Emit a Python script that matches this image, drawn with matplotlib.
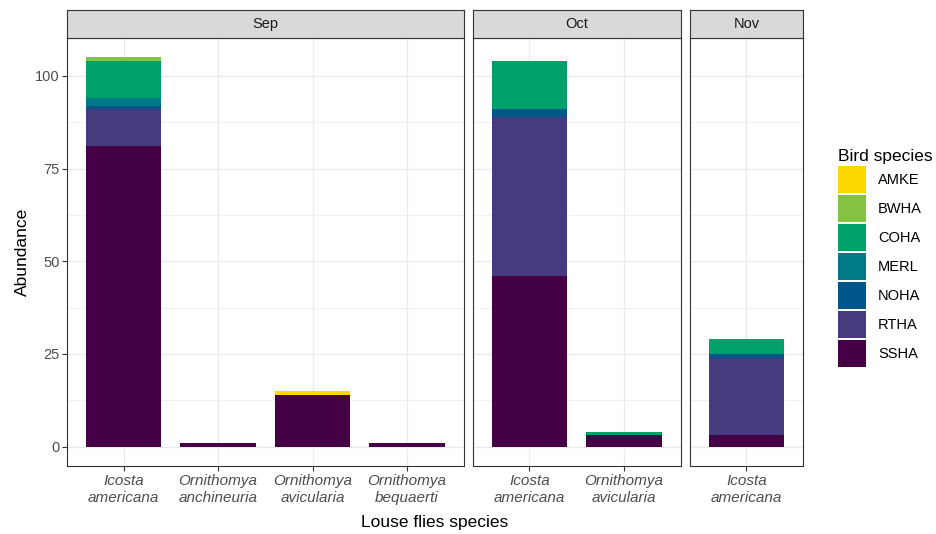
import numpy as np
import matplotlib.pyplot as plt
from matplotlib.patches import Patch

plt.rcParams['font.family'] = ['Liberation Sans', 'DejaVu Sans']

# Data: abundance of louse flies by month, fly species and bird species
months = ['Sep', 'Oct', 'Nov']
fly_species = {
    'Sep': ['Icosta\namericana', 'Ornithomya\nanchineuria', 'Ornithomya\navicularia', 'Ornithomya\nbequaerti'],
    'Oct': ['Icosta\namericana', 'Ornithomya\navicularia'],
    'Nov': ['Icosta\namericana'],
}
birds = ['SSHA', 'RTHA', 'NOHA', 'MERL', 'COHA', 'BWHA', 'AMKE']  # stacking order, bottom first

sep_counts = {'SSHA': [81, 1, 14, 1], 'RTHA': [10, 0, 0, 0], 'NOHA': [1, 0, 0, 0], 'MERL': [2, 0, 0, 0],
              'COHA': [10, 0, 0, 0], 'BWHA': [1, 0, 0, 0], 'AMKE': [0, 0, 1, 0]}
oct_counts = {'SSHA': [46, 3], 'RTHA': [43, 0], 'NOHA': [2, 0], 'MERL': [0, 0],
              'COHA': [13, 1], 'BWHA': [0, 0], 'AMKE': [0, 0]}
nov_counts = {'SSHA': [3], 'RTHA': [21], 'NOHA': [1], 'MERL': [0],
              'COHA': [4], 'BWHA': [0], 'AMKE': [0]}
counts = {'Sep': sep_counts, 'Oct': oct_counts, 'Nov': nov_counts}

colors = {'AMKE': '#FDD800', 'BWHA': '#83C341', 'COHA': '#00A06B', 'MERL': '#007A87',
          'NOHA': '#00578A', 'RTHA': '#443C7F', 'SSHA': '#440145'}

fig = plt.figure(figsize=(9.36, 5.34), dpi=100)
widths = [len(fly_species[m]) + 0.2 for m in months]
gs = fig.add_gridspec(2, 3, width_ratios=widths, height_ratios=[28, 428],
                      left=67/936, right=803/936, top=1-10/534, bottom=1-466/534,
                      wspace=0.038, hspace=0)

border = '#333333'
for j, m in enumerate(months):
    ax = fig.add_subplot(gs[1, j])
    sax = fig.add_subplot(gs[0, j])
    cats = fly_species[m]
    x = np.arange(1, len(cats) + 1)
    bottom = np.zeros(len(cats))
    for b in birds:
        vals = np.array(counts[m][b], dtype=float)
        ax.bar(x, vals, width=0.8, bottom=bottom, color=colors[b], linewidth=0, zorder=3)
        bottom += vals
    ax.set_xlim(0.4, len(cats) + 0.6)
    ax.set_ylim(-5.25, 110.25)
    ax.set_yticks([0, 25, 50, 75, 100])
    ax.set_yticks([12.5, 37.5, 62.5, 87.5], minor=True)
    ax.set_xticks(x)
    ax.set_xticklabels(cats, style='italic', fontsize=11, color='#4D4D4D', linespacing=1.3)
    ax.grid(True, which='major', color='#EBEBEB', linewidth=1.0, zorder=0)
    ax.grid(True, which='minor', axis='y', color='#EBEBEB', linewidth=0.5, zorder=0)
    ax.set_axisbelow(True)
    ax.tick_params(axis='both', which='major', length=3.5, width=0.8, color=border, pad=2)
    ax.tick_params(axis='y', which='minor', length=0)
    ax.tick_params(axis='y', labelsize=10.5, labelcolor='#4D4D4D')
    for s in ax.spines.values():
        s.set_color(border)
        s.set_linewidth(0.8)
    if j > 0:
        ax.tick_params(axis='y', which='major', length=0, labelleft=False)

    sax.set_facecolor('#D9D9D9')
    sax.set_xticks([])
    sax.set_yticks([])
    for s in sax.spines.values():
        s.set_color(border)
        s.set_linewidth(0.8)
    sax.text(0.5, 0.5, m, ha='center', va='center', fontsize=10.5, color='#1A1A1A',
             transform=sax.transAxes)

fig.text(22/936, 1 - 252/534, 'Abundance', rotation=90, ha='center', va='center', fontsize=12.5)
fig.text(435/936, 1 - 522/534, 'Louse flies species', ha='center', va='center', fontsize=12.5)

handles = [Patch(facecolor=colors[b], edgecolor='none') for b in reversed(birds)]
leg = fig.legend(handles, list(reversed(birds)), loc='upper left', bbox_to_anchor=(828/936, 1 - 139/534),
                 frameon=False, title='Bird species', title_fontsize=12.5, fontsize=10.5,
                 handlelength=1.92, handleheight=2.47, labelspacing=0.14, handletextpad=0.8,
                 alignment='left', borderpad=0.2)

fig.savefig('out.png', dpi=100)
